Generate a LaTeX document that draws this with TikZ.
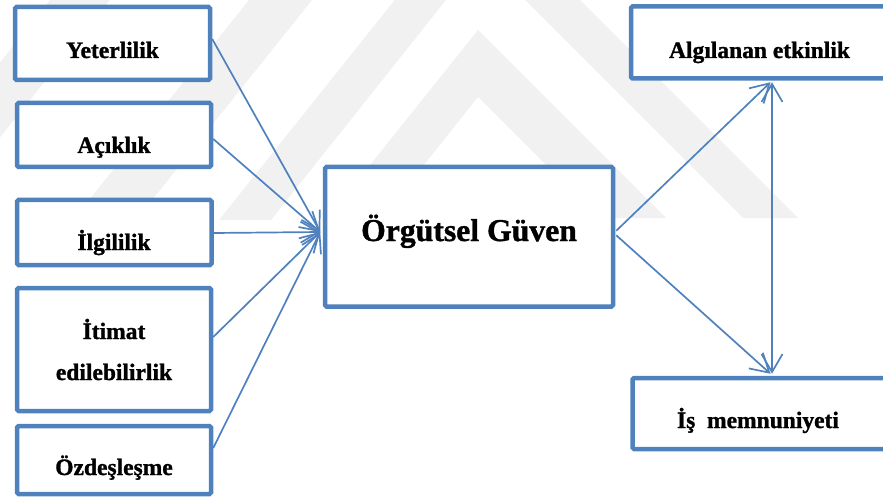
\documentclass[tikz,border=0pt]{standalone}
\usepackage{fontspec}
\setmainfont{Liberation Serif}[BoldFont={Liberation Serif Bold}, BoldFeatures={FakeBold=1.2}]
\usetikzlibrary{arrows.meta}

\definecolor{frameblue}{RGB}{79,129,189}
\definecolor{markgray}{RGB}{241,241,241}

\begin{document}
\begin{tikzpicture}[x=1pt,y=-1pt,
  box/.style={draw=frameblue, line width=4.5pt, fill=white, rounded corners=1.5pt, inner sep=0pt},
  lbl/.style={font=\bfseries\fontsize{23.5}{28}\selectfont, inner sep=0pt, anchor=base},
  biglbl/.style={font=\bfseries\fontsize{31.7}{38}\selectfont, inner sep=0pt, anchor=base},
  barb/.tip={Straight Barb[length=18pt,width=21pt,line width=1.7pt]},
  arr/.style={draw=frameblue, line width=1.7pt, -barb},
  dblarr/.style={draw=frameblue, line width=1.7pt, barb-barb},
  band/.style={fill=markgray, draw=none}]

\useasboundingbox (0,0) rectangle (883,497);
\clip (0,0) rectangle (883,497);

% faint diagonal background emblem
\path[band] (50,0) -- (110,0) -- (-66,220) -- (-126,220) -- cycle;
\path[band] (249,0) -- (312,0) -- (136,220) -- (73,220) -- cycle;
\path[band] (219,220) -- (477,-103) -- (798,218) -- (743,218) -- (481,-44) -- (271,220) -- cycle;
\path[band] (326,220) -- (478,30) -- (666,218) -- (599,218) -- (478,97) -- (380,220) -- cycle;

% antecedent boxes
\node[box, minimum width=195pt, minimum height=73pt] (yet) at (112.5,43.5) {};
\node[box, minimum width=194pt, minimum height=64pt] (acik) at (114,135) {};
\node[box, minimum width=194.5pt, minimum height=65pt] (ilg) at (114.25,232.5) {};
\node[box, minimum width=194pt, minimum height=123pt] (itim) at (114,349.5) {};
\node[box, minimum width=194pt, minimum height=68pt] (ozd) at (114,460) {};

% central construct
\node[box, minimum width=288pt, minimum height=139.5pt] (org) at (469,236.75) {};

% outcome boxes
\node[box, minimum width=256pt, minimum height=72pt] (alg) at (759,42.5) {};
\node[box, minimum width=253pt, minimum height=71pt] (is) at (759,413.5) {};

% labels
\node[lbl] (yett) at (112.5,58) {Yeterlilik};
\node[lbl] (acikt) at (114,153) {Açıklık};
\node[lbl] (ilgt) at (114,250) {İlgililik};
\node[lbl] (itimt) at (114,339) {İtimat};
\node[lbl] (itimt2) at (114,380) {edilebilirlik};
\node[lbl] (ozdt) at (114,475) {Özdeşleşme};
\node[biglbl] (orgt) at (469,241) {Örgütsel Güven};
\node[lbl] (algt) at (759.5,58) {Algılanan etkinlik};
\node[lbl] (ist) at (758,428) {İş\ \ memnuniyeti};

% convergence point on the central box
\coordinate (conv) at ([xshift=-2.5pt,yshift=4.75pt]org.west);

\draw[arr] ([yshift=4.5pt]yet.east) -- (conv);
\draw[arr] ([yshift=-4pt]acik.east) -- (conv);
\draw[arr] ([yshift=-0.5pt]ilg.east) -- (conv);
\draw[arr] ([yshift=12.5pt]itim.east) -- (conv);
\draw[arr] ([yshift=12pt]ozd.east) -- (conv);

\draw[arr] ([xshift=1pt,yshift=6pt]org.east) -- ([xshift=11.5pt,yshift=-1.5pt]alg.south);
\draw[arr] ([xshift=1pt,yshift=1.5pt]org.east) -- ([xshift=11.5pt,yshift=2pt]is.north);
\draw[dblarr] ([xshift=13pt,yshift=2pt]is.north) -- ([xshift=13pt,yshift=-1.5pt]alg.south);

\end{tikzpicture}
\end{document}
